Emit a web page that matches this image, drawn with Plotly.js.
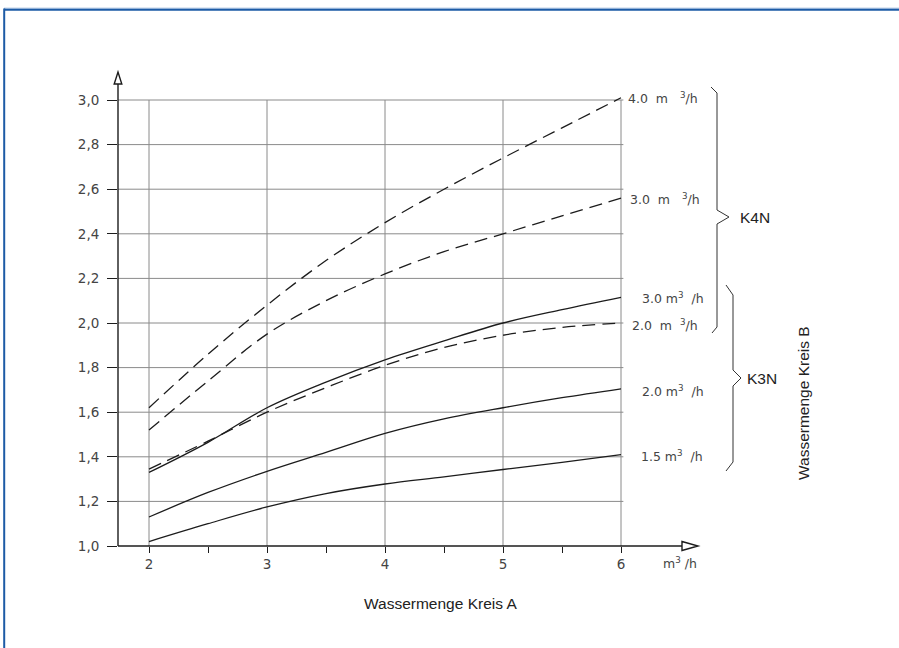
<!DOCTYPE html>
<html>
<head>
<meta charset="utf-8">
<script src="https://cdn.plot.ly/plotly-3.0.1.min.js"></script>
<style>html,body{margin:0;padding:0;background:#fff;}#chart{width:899px;height:648px;}</style>
</head>
<body>
<div id="chart"></div>
<script>
// ---- data ----
const flowA   = [2, 2.5, 3, 3.5, 4, 4.5, 5, 5.5, 6];
const k4n_40  = [1.62, 1.86, 2.08, 2.28, 2.45, 2.60, 2.74, 2.875, 3.01];
const k4n_30  = [1.52, 1.74, 1.95, 2.10, 2.22, 2.32, 2.40, 2.48, 2.56];
const k4n_20  = [1.345, 1.47, 1.60, 1.71, 1.81, 1.89, 1.945, 1.98, 2.00];
const k3n_30  = [1.33, 1.465, 1.62, 1.735, 1.835, 1.92, 2.00, 2.06, 2.115];
const k3n_20  = [1.13, 1.24, 1.335, 1.42, 1.505, 1.57, 1.62, 1.665, 1.705];
const k3n_15  = [1.02, 1.10, 1.175, 1.235, 1.278, 1.31, 1.343, 1.375, 1.41];
const xTickVals = [2, 2.5, 3, 3.5, 4, 4.5, 5, 5.5, 6];
const xTickText = ['2', '', '3', '', '4', '', '5', '', '6'];
const yTickVals = [1.0, 1.2, 1.4, 1.6, 1.8, 2.0, 2.2, 2.4, 2.6, 2.8, 3.0];
const seriesLabels = ['4.0\u00a0\u00a0m\u00a0\u00a0\u00a0<sup>3</sup>/h', '3.0\u00a0\u00a0m\u00a0\u00a0\u00a0<sup>3</sup>/h',
  '2.0\u00a0\u00a0m\u00a0\u00a0<sup>3</sup>/h', '3.0\u00a0m<sup>3</sup>\u00a0\u00a0/h',
  '2.0\u00a0m<sup>3</sup>\u00a0\u00a0/h', '1.5\u00a0m<sup>3</sup>\u00a0\u00a0/h'];
const groupLabels = ['K4N', 'K3N'];

// ---- geometry ----
const W = 899, H = 648;
const L = 118, R = 800, T = 60, B = 546;
const pxPerX = 118, pxPerY = 223;
const xMin = 2 - (149 - L) / pxPerX;
const xMax = xMin + (R - L) / pxPerX;
const yMin = 1.0, yMax = 1.0 + (B - T) / pxPerY;
const PX = px => (px - L) / (R - L);     // pixel -> paper
const PY = py => (B - py) / (B - T);

const ink = '#1c1c1c';
const solid = {color: ink, width: 1.3, shape: 'spline', smoothing: 1};
const dashed = {color: ink, width: 1.3, shape: 'spline', smoothing: 1, dash: '13px,7px'};

const series = [
  {y: k4n_40, line: dashed, dx: 5,  dy: 0},
  {y: k4n_30, line: dashed, dx: 7,  dy: -1},
  {y: k4n_20, line: dashed, dx: 9,  dy: -2},
  {y: k3n_30, line: solid,  dx: 19, dy: -1},
  {y: k3n_20, line: solid,  dx: 19, dy: -2},
  {y: k3n_15, line: solid,  dx: 18, dy: -1}
];
const traces = series.map(s => ({
  x: flowA, y: s.y, type: 'scatter', mode: 'lines', line: s.line,
  hoverinfo: 'skip', showlegend: false, cliponaxis: false
}));

// ---- shapes ----
const shapes = [];
const grid = {color: '#8a8a8a', width: 1};
yTickVals.slice(1).forEach(v => shapes.push({type: 'line', xref: 'x', yref: 'y', x0: xMin, x1: 6.02, y0: v, y1: v, line: grid, layer: 'below'}));
xTickVals.filter(v => Number.isInteger(v)).forEach(v => shapes.push({type: 'line', xref: 'x', yref: 'y', x0: v, x1: v, y0: 1.0, y1: 3.0, line: grid, layer: 'below'}));
const axisLine = {color: ink, width: 1.4};
// x axis with hollow arrow
shapes.push({type: 'line', xref: 'paper', yref: 'paper', x0: PX(118), x1: PX(682), y0: PY(546), y1: PY(546), line: axisLine});
shapes.push({type: 'path', xref: 'paper', yref: 'paper', line: axisLine,
  path: `M ${PX(682)} ${PY(541.5)} L ${PX(698)} ${PY(546)} L ${PX(682)} ${PY(550.5)} Z`});
// y axis with hollow arrow
shapes.push({type: 'line', xref: 'paper', yref: 'paper', x0: PX(118), x1: PX(118), y0: PY(546), y1: PY(84), line: axisLine});
shapes.push({type: 'path', xref: 'paper', yref: 'paper', line: axisLine,
  path: `M ${PX(114.2)} ${PY(84)} L ${PX(118)} ${PY(72)} L ${PX(121.8)} ${PY(84)} Z`});
// braces
const brace = {color: '#333', width: 1};
shapes.push({type: 'path', xref: 'paper', yref: 'paper', line: brace,
  path: `M ${PX(711)} ${PY(87)} L ${PX(717)} ${PY(93)} L ${PX(717)} ${PY(210)} L ${PX(729)} ${PY(217)} L ${PX(717)} ${PY(224)} L ${PX(717)} ${PY(327)} L ${PX(712)} ${PY(333)}`});
shapes.push({type: 'path', xref: 'paper', yref: 'paper', line: brace,
  path: `M ${PX(726)} ${PY(285)} L ${PX(733)} ${PY(295)} L ${PX(733)} ${PY(370)} L ${PX(741)} ${PY(378)} L ${PX(733)} ${PY(386)} L ${PX(733)} ${PY(462)} L ${PX(726)} ${PY(471)}`});
// frame (blue border, left and top)
shapes.push({type: 'line', xref: 'paper', yref: 'paper', x0: PX(4), x1: PX(899), y0: PY(8.2), y1: PY(8.2), line: {color: '#9bb8dc', width: 1}});
shapes.push({type: 'line', xref: 'paper', yref: 'paper', x0: PX(4), x1: PX(899), y0: PY(9.8), y1: PY(9.8), line: {color: '#1d5ba6', width: 2}});
shapes.push({type: 'line', xref: 'paper', yref: 'paper', x0: PX(4.2), x1: PX(4.2), y0: PY(8.5), y1: PY(648), line: {color: '#1d5ba6', width: 2}});

// ---- annotations ----
const lblFont = {family: 'DejaVu Sans, sans-serif', size: 12.5, color: '#444'};
const annotations = series.map((s, i) => ({
  x: flowA[flowA.length - 1], y: s.y[s.y.length - 1], xref: 'x', yref: 'y',
  text: seriesLabels[i], showarrow: false, xanchor: 'left', yanchor: 'middle',
  xshift: s.dx, yshift: s.dy, font: lblFont
}));
const bigFont = {family: 'Liberation Sans, Arial, sans-serif', size: 15.5, color: '#222'};
annotations.push({xref: 'paper', yref: 'paper', x: PX(738), y: PY(217), text: groupLabels[0], showarrow: false, xanchor: 'left', yanchor: 'middle', font: bigFont});
annotations.push({xref: 'paper', yref: 'paper', x: PX(745), y: PY(378), text: groupLabels[1], showarrow: false, xanchor: 'left', yanchor: 'middle', font: bigFont});
annotations.push({xref: 'paper', yref: 'paper', x: PX(440), y: PY(603), text: 'Wassermenge Kreis A', showarrow: false, xanchor: 'center', yanchor: 'middle', font: bigFont});
annotations.push({xref: 'paper', yref: 'paper', x: PX(803), y: PY(403), text: 'Wassermenge Kreis B', showarrow: false, textangle: -90, xanchor: 'center', yanchor: 'middle', font: bigFont});
annotations.push({xref: 'paper', yref: 'paper', x: PX(661), y: PY(563), text: 'm<sup>3</sup>\u00a0/h', showarrow: false, xanchor: 'left', yanchor: 'middle', font: lblFont});

const tickFont = {family: 'DejaVu Sans, sans-serif', size: 13.5, color: '#444'};
const layout = {
  width: W, height: H,
  margin: {l: L, r: W - R, t: T, b: H - B, pad: 0},
  paper_bgcolor: '#fff', plot_bgcolor: '#fff',
  separators: ',.',
  showlegend: false,
  xaxis: {range: [xMin, xMax], showgrid: false, zeroline: false, showline: false,
    tickmode: 'array', tickvals: xTickVals, ticktext: xTickText,
    ticks: 'outside', ticklen: 6, tickwidth: 1, tickcolor: ink, tickfont: tickFont, ticklabelstandoff: 0},
  yaxis: {range: [yMin, yMax], showgrid: false, zeroline: false, showline: false,
    tickmode: 'array', tickvals: yTickVals, tickformat: '.1f',
    ticks: 'outside', ticklen: 10, tickwidth: 1, tickcolor: ink, tickfont: tickFont, ticklabelstandoff: 5},
  shapes: shapes,
  annotations: annotations
};
Plotly.newPlot('chart', traces, layout, {staticPlot: true, displayModeBar: false});
</script>
</body>
</html>
